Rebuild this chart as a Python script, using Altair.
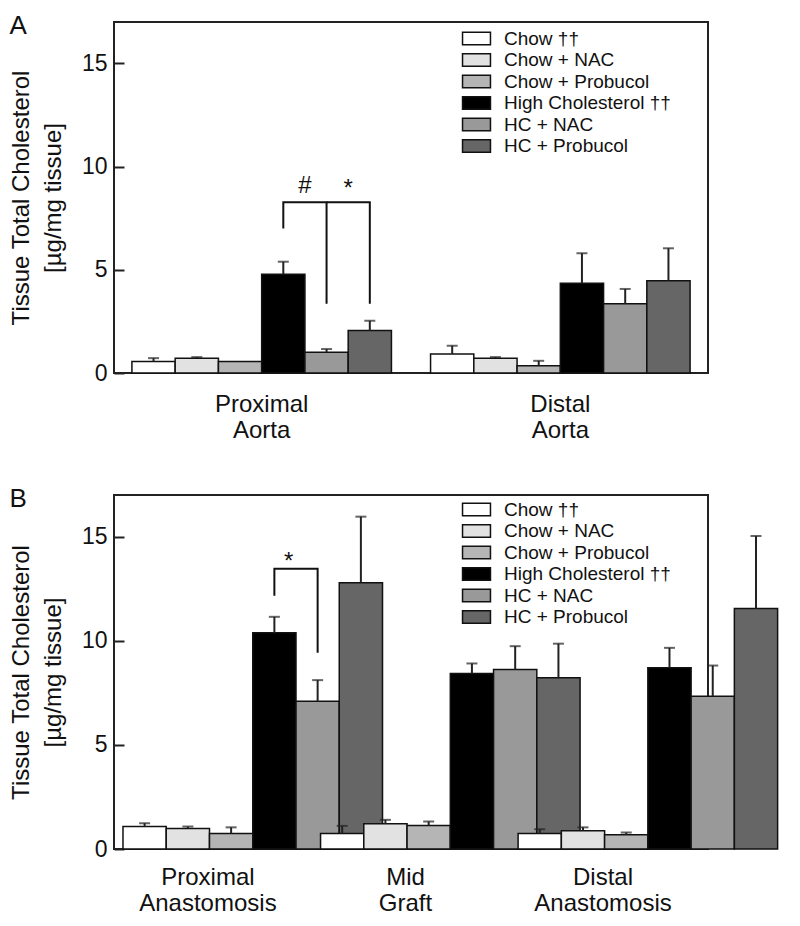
import altair as alt
import pandas as pd

series = ["Chow ††", "Chow + NAC", "Chow + Probucol", "High Cholesterol ††", "HC + NAC", "HC + Probucol"]
fills = ["#ffffff", "#e2e2e2", "#b5b5b5", "#000000", "#999999", "#666666"]

groups_a = ["Proximal Aorta", "Distal Aorta"]
mean_prox_aorta = [0.56, 0.72, 0.56, 4.78, 1.01, 2.06]
err_prox_aorta = [0.16, 0.05, 0.0, 0.61, 0.15, 0.47]
mean_dist_aorta = [0.92, 0.72, 0.35, 4.35, 3.35, 4.47]
err_dist_aorta = [0.40, 0.05, 0.24, 1.45, 0.72, 1.57]

groups_b = ["Proximal Anastomosis", "Mid Graft", "Distal Anastomosis"]
mean_prox_anast = [1.08, 0.99, 0.75, 10.38, 7.10, 12.79]
err_prox_anast = [0.16, 0.09, 0.29, 0.77, 1.01, 3.17]
mean_mid_graft = [0.75, 1.21, 1.13, 8.43, 8.62, 8.22]
err_mid_graft = [0.36, 0.19, 0.19, 0.48, 1.12, 1.64]
mean_dist_anast = [0.75, 0.88, 0.68, 8.70, 7.34, 11.55]
err_dist_anast = [0.20, 0.16, 0.11, 0.96, 1.47, 3.48]

# significance brackets: (bracket id, group, series, y)
brackets_a = [
    ("hash", "Proximal Aorta", "High Cholesterol ††", 7.0),
    ("hash", "Proximal Aorta", "High Cholesterol ††", 8.27),
    ("hash", "Proximal Aorta", "HC + NAC", 8.27),
    ("hash", "Proximal Aorta", "HC + NAC", 3.35),
    ("star", "Proximal Aorta", "HC + NAC", 8.27),
    ("star", "Proximal Aorta", "HC + Probucol", 8.27),
    ("star", "Proximal Aorta", "HC + Probucol", 3.35),
]
signs_a = [("Proximal Aorta", "High Cholesterol ††", 8.7, "#"),
           ("Proximal Aorta", "HC + NAC", 8.55, "*")]

brackets_b = [
    ("star", "Proximal Anastomosis", "High Cholesterol ††", 12.16),
    ("star", "Proximal Anastomosis", "High Cholesterol ††", 13.46),
    ("star", "Proximal Anastomosis", "HC + NAC", 13.46),
    ("star", "Proximal Anastomosis", "HC + NAC", 9.42),
]
signs_b = [("Proximal Anastomosis", "High Cholesterol ††", 13.45, "*")]

FONT = "Liberation Sans"


def bars_df(groups, means, errs):
    rows = []
    for g, m, e in zip(groups, means, errs):
        for s, v, d in zip(series, m, e):
            rows.append({"group": g, "series": s, "value": v, "upper": v + d, "err": d})
    return pd.DataFrame(rows)


def panel(df, groups, brackets, signs, letter, w, h, pin, pout, align, dx, lx, ly, lpad):
    xs = alt.Scale(domain=groups, paddingInner=pin, paddingOuter=pout, align=align)
    xax = alt.Axis(title=None, labelExpr="split(datum.label, ' ')", ticks=False, domain=False,
                   labelAngle=0, labelFontSize=24, labelLineHeight=26, labelPadding=lpad,
                   labelColor="#111", labelFont=FONT)
    x = alt.X("group:N", scale=xs, axis=xax)
    xo = alt.XOffset("series:N", scale=alt.Scale(domain=series, paddingInner=0, paddingOuter=0))
    ys = alt.Scale(domain=[0, 17], nice=False, zero=True)
    yax = alt.Axis(title=["Tissue Total Cholesterol", "[µg/mg tissue]"], values=[0, 5, 10, 15],
                   offset=-10, tickSize=10, tickWidth=2, tickColor="#222", domain=False, grid=False,
                   labelFontSize=23, labelPadding=7, labelColor="#111", labelFont=FONT,
                   titleFontSize=24, titleFontWeight="normal", titleLineHeight=32,
                   titlePadding=16, titleColor="#111", titleFont=FONT)

    legend = alt.Legend(title=None, orient="none", legendX=lx, legendY=ly,
                        symbolType="M-1.47,-0.66H1.47V0.66H-1.47Z", symbolSize=361,
                        symbolStrokeColor="#111", symbolStrokeWidth=1.5, symbolOpacity=1,
                        labelFontSize=19, labelOffset=17, rowPadding=0.5, labelLimit=300,
                        labelColor="#111", labelFont=FONT, padding=0)

    base = alt.Chart(df)
    bars = base.mark_bar(stroke="#111", strokeWidth=1.5).encode(
        x=x, xOffset=xo, y=alt.Y("value:Q", scale=ys, axis=yax),
        color=alt.Color("series:N", scale=alt.Scale(domain=series, range=fills), legend=legend),
    )
    errs = base.transform_filter("datum.err > 0")
    stems = errs.mark_rule(color="#222", strokeWidth=2).encode(
        x=x, xOffset=xo, y=alt.Y("value:Q", scale=ys, axis=yax), y2="upper:Q")
    caps = errs.mark_tick(color="#222", thickness=2, size=11, orient="horizontal").encode(
        x=x, xOffset=xo, y=alt.Y("upper:Q", scale=ys, axis=yax))

    bdf = pd.DataFrame([{"b": b, "group": g, "series": s, "by": v, "pt": i}
                        for i, (b, g, s, v) in enumerate(brackets)])
    br = alt.Chart(bdf).mark_line(color="#111", strokeWidth=2).encode(
        x=x, xOffset=xo, y=alt.Y("by:Q", scale=ys, axis=yax), detail="b:N", order="pt:Q")

    sdf = pd.DataFrame([{"group": g, "series": s, "sy": v, "t": t} for g, s, v, t in signs])
    st = alt.Chart(sdf).mark_text(fontSize=24, font=FONT, color="#111", dx=dx, baseline="alphabetic").encode(
        x=x, xOffset=xo, y=alt.Y("sy:Q", scale=ys, axis=yax), text="t:N")

    return alt.layer(bars, stems, caps, br, st).properties(
        width=w, height=h,
        title=alt.TitleParams(letter, anchor="start", frame="bounds", fontSize=26,
                              fontWeight="normal", font=FONT, color="#111", offset=-17),
    )


pa = panel(bars_df(groups_a, [mean_prox_aorta, mean_dist_aorta], [err_prox_aorta, err_dist_aorta]),
           groups_a, brackets_a, signs_a, "A", 594, 351, 0.131, 0.06, 0.5, 21.6, 352, 6, 19)
pb = panel(bars_df(groups_b, [mean_prox_anast, mean_mid_graft, mean_dist_anast],
                   [err_prox_anast, err_mid_graft, err_dist_anast]),
           groups_b, brackets_b, signs_b, "B", 594, 354, 0.14, 0.0734, 0.31, 14.2, 352, 4, 16)

chart = alt.vconcat(pa, pb, spacing=42).resolve_scale(color="independent").resolve_legend(
    color="independent").properties(
    padding={"left": 0, "top": 4, "right": 0, "bottom": 0}, background="white"
).configure_view(stroke="#222", strokeWidth=2)

chart.save("out.html", embed_options={"renderer": "svg", "actions": False})
